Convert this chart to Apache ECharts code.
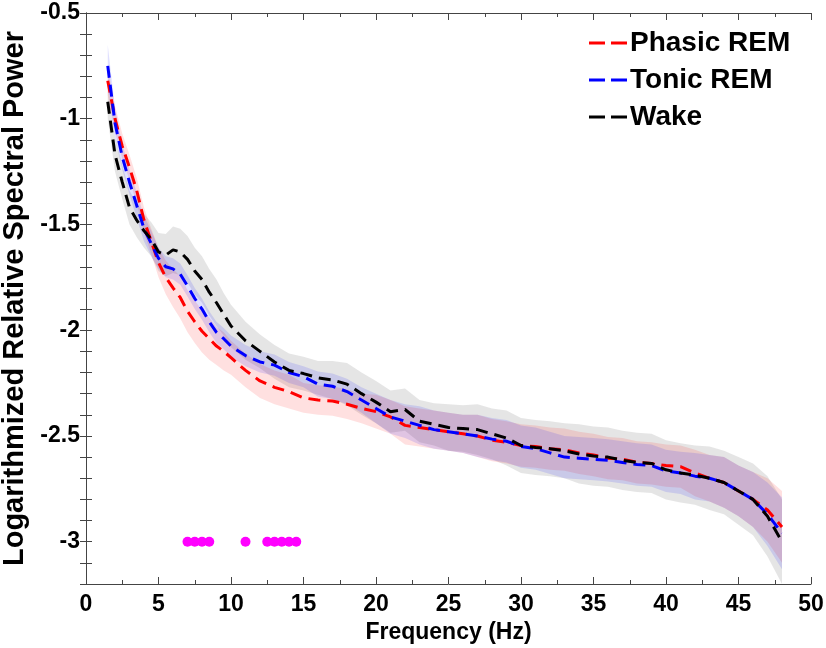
<!DOCTYPE html>
<html>
<head>
<meta charset="utf-8">
<script src="https://cdn.jsdelivr.net/npm/echarts@6/dist/echarts.min.js"></script>
<style>
  html, body { margin: 0; padding: 0; background: #fff; }
  #chart { width: 826px; height: 648px; }
</style>
</head>
<body>
<div id="chart"></div>
<script>
// frequency grid (Hz)
const freqs = [1.5, 2, 2.5, 3, 3.5, 4, 4.5, 5, 5.5, 6, 6.5, 7, 7.5, 8, 8.5, 9, 9.5, 10,
  11, 12, 13, 14, 15, 16, 17, 18, 19, 20, 21, 22, 23, 24, 25, 26, 27, 28, 29, 30,
  31, 32, 33, 34, 35, 36, 37, 38, 39, 40, 41, 42, 43, 44, 45, 46, 47, 48];

// mean log relative power
const phasic = [-0.82, -1.00, -1.13, -1.23, -1.34, -1.48, -1.58, -1.68, -1.75, -1.80, -1.845, -1.91, -1.96, -2.005, -2.04, -2.075, -2.10, -2.13,
  -2.19, -2.24, -2.27, -2.29, -2.32, -2.33, -2.335, -2.35, -2.37, -2.385, -2.41, -2.45, -2.46, -2.47, -2.48, -2.49, -2.50, -2.52, -2.53, -2.545,
  -2.55, -2.56, -2.565, -2.58, -2.59, -2.605, -2.61, -2.625, -2.63, -2.64, -2.645, -2.675, -2.70, -2.72, -2.76, -2.80, -2.85, -2.93];
const tonic = [-0.75, -1.02, -1.18, -1.30, -1.41, -1.52, -1.59, -1.66, -1.70, -1.71, -1.735, -1.79, -1.85, -1.90, -1.96, -2.01, -2.04, -2.075,
  -2.12, -2.15, -2.165, -2.20, -2.22, -2.255, -2.265, -2.29, -2.33, -2.37, -2.41, -2.43, -2.45, -2.47, -2.48, -2.49, -2.50, -2.515, -2.525, -2.55,
  -2.56, -2.58, -2.60, -2.605, -2.61, -2.615, -2.625, -2.635, -2.64, -2.665, -2.675, -2.69, -2.70, -2.72, -2.76, -2.80, -2.87, -2.96];
const wake = [-0.92, -1.17, -1.30, -1.42, -1.48, -1.53, -1.57, -1.63, -1.645, -1.62, -1.63, -1.665, -1.72, -1.76, -1.82, -1.87, -1.925, -1.98,
  -2.05, -2.10, -2.15, -2.19, -2.205, -2.225, -2.235, -2.255, -2.30, -2.34, -2.385, -2.375, -2.43, -2.445, -2.46, -2.465, -2.47, -2.49, -2.51, -2.545,
  -2.555, -2.56, -2.57, -2.585, -2.595, -2.60, -2.615, -2.625, -2.63, -2.66, -2.675, -2.685, -2.70, -2.72, -2.76, -2.80, -2.88, -3.00];

// shaded error (half width)
const phasicErr = [0.07, 0.06, 0.06, 0.06, 0.06, 0.06, 0.06, 0.07, 0.08, 0.09, 0.10, 0.10, 0.10, 0.10, 0.10, 0.09, 0.09, 0.08,
  0.08, 0.08, 0.08, 0.08, 0.07, 0.07, 0.07, 0.07, 0.07, 0.08, 0.08, 0.09, 0.09, 0.09, 0.09, 0.09, 0.10, 0.10, 0.10, 0.10,
  0.10, 0.10, 0.10, 0.10, 0.10, 0.10, 0.10, 0.10, 0.10, 0.10, 0.10, 0.11, 0.11, 0.12, 0.12, 0.13, 0.15, 0.17];
const tonicErr = [0.10, 0.07, 0.06, 0.06, 0.06, 0.06, 0.06, 0.05, 0.05, 0.05, 0.05, 0.05, 0.05, 0.05, 0.05, 0.05, 0.05, 0.05,
  0.05, 0.05, 0.05, 0.05, 0.05, 0.06, 0.06, 0.06, 0.06, 0.07, 0.08, 0.08, 0.09, 0.09, 0.09, 0.09, 0.10, 0.10, 0.10, 0.10,
  0.10, 0.10, 0.10, 0.10, 0.10, 0.10, 0.10, 0.10, 0.10, 0.10, 0.10, 0.11, 0.11, 0.12, 0.12, 0.13, 0.15, 0.17];
const wakeErr = [0.08, 0.08, 0.08, 0.08, 0.08, 0.08, 0.08, 0.09, 0.10, 0.11, 0.11, 0.11, 0.11, 0.11, 0.11, 0.11, 0.10, 0.10,
  0.09, 0.08, 0.08, 0.08, 0.08, 0.08, 0.09, 0.10, 0.10, 0.10, 0.10, 0.10, 0.10, 0.10, 0.11, 0.11, 0.12, 0.12, 0.13, 0.13,
  0.13, 0.13, 0.13, 0.14, 0.14, 0.14, 0.14, 0.14, 0.14, 0.14, 0.14, 0.14, 0.15, 0.15, 0.16, 0.17, 0.19, 0.20];

// significant differences (magenta dots)
const sigFreqs = [7, 7.5, 8, 8.5, 11, 12.5, 13, 13.5, 14, 14.5];
const sigLevel = -3;

const font = '"Liberation Sans", Arial, sans-serif';
const axisColor = '#444';

const pairs = (ys) => freqs.map((f, i) => [f, ys[i]]);

// shaded band drawn as one polygon through the axis scales
const band = (mean, err, fill) => ({
  type: 'custom',
  silent: true,
  clip: true,
  z: 1,
  data: [[freqs[0], mean[0]]],
  renderItem: (params, api) => {
    const pts = [];
    for (let i = 0; i < freqs.length; i++) pts.push(api.coord([freqs[i], mean[i] + err[i]]));
    for (let i = freqs.length - 1; i >= 0; i--) pts.push(api.coord([freqs[i], mean[i] - err[i]]));
    return { type: 'polygon', shape: { points: pts }, style: { fill: fill } };
  }
});

const line = (name, ys, color) => ({
  name: name,
  type: 'line',
  data: pairs(ys),
  symbol: 'none',
  z: 3,
  lineStyle: { color: color, width: 3, type: [12, 7] },
  itemStyle: { color: color }
});

const chart = echarts.init(document.getElementById('chart'));

const tickCommon = {
  axisLine: { show: true, lineStyle: { color: axisColor, width: 1 } },
  splitLine: { show: false }
};

chart.setOption({
  animation: false,
  backgroundColor: '#fff',
  grid: { left: 86, right: 15, top: 13, bottom: 64, outerBoundsMode: 'none' },
  legend: {
    data: ['Phasic REM', 'Tonic REM', 'Wake'],
    orient: 'vertical',
    left: 584,
    top: 24,
    icon: 'path://M0,0 H16 V3 H0 Z M22,0 H38 V3 H22 Z',
    itemWidth: 38,
    itemHeight: 3,
    itemGap: 9,
    textStyle: { fontFamily: font, fontWeight: 'bold', fontSize: 28, color: '#000', padding: [0, 0, 0, -2] }
  },
  xAxis: [
    {
      type: 'value', min: 0, max: 50, interval: 5,
      name: 'Frequency (Hz)', nameLocation: 'middle', nameGap: 37,
      nameTextStyle: { fontFamily: font, fontWeight: 'bold', fontSize: 23, color: '#000' },
      ...tickCommon,
      axisTick: { inside: true, length: 7, lineStyle: { color: axisColor } },
      minorTick: { show: true, splitNumber: 2, length: 4, lineStyle: { color: axisColor } },
      axisLabel: { fontFamily: font, fontWeight: 'bold', fontSize: 23, color: '#000', margin: 9 }
    },
    {
      type: 'value', min: 0, max: 50, interval: 5, position: 'top',
      ...tickCommon,
      axisTick: { inside: true, length: 7, lineStyle: { color: axisColor } },
      minorTick: { show: true, splitNumber: 2, length: 4, lineStyle: { color: axisColor } },
      axisLabel: { show: false }
    }
  ],
  yAxis: [
    {
      type: 'value', min: -3.2, max: -0.5, interval: 0.1,
      name: 'Logarithmized Relative Spectral Power', nameLocation: 'middle', nameGap: 55,
      nameTextStyle: { fontFamily: font, fontWeight: 'bold', fontSize: 29, color: '#000' },
      ...tickCommon,
      axisTick: { inside: true, length: 6, lineStyle: { color: axisColor } },
      axisLabel: {
        fontFamily: font, fontWeight: 'bold', fontSize: 23, color: '#000', margin: 6,
        formatter: (v) => (Math.abs(v * 2 - Math.round(v * 2)) < 1e-6 ? String(Math.round(v * 10) / 10) : '')
      }
    },
    {
      type: 'value', min: -3.2, max: -0.5, interval: 0.1, position: 'right',
      ...tickCommon,
      axisTick: { inside: true, length: 6, lineStyle: { color: axisColor } },
      axisLabel: { show: false }
    }
  ],
  series: [
    band(wake, wakeErr, 'rgba(150,150,150,0.25)'),
    band(phasic, phasicErr, 'rgba(255,0,0,0.12)'),
    band(tonic, tonicErr, 'rgba(0,0,255,0.12)'),
    line('Phasic REM', phasic, '#ff0000'),
    line('Tonic REM', tonic, '#0000ff'),
    line('Wake', wake, '#000000'),
    {
      type: 'scatter',
      data: sigFreqs.map((f) => [f, sigLevel]),
      symbolSize: 10,
      itemStyle: { color: '#ff00ff', opacity: 1 },
      z: 4
    }
  ]
});
</script>
</body>
</html>
